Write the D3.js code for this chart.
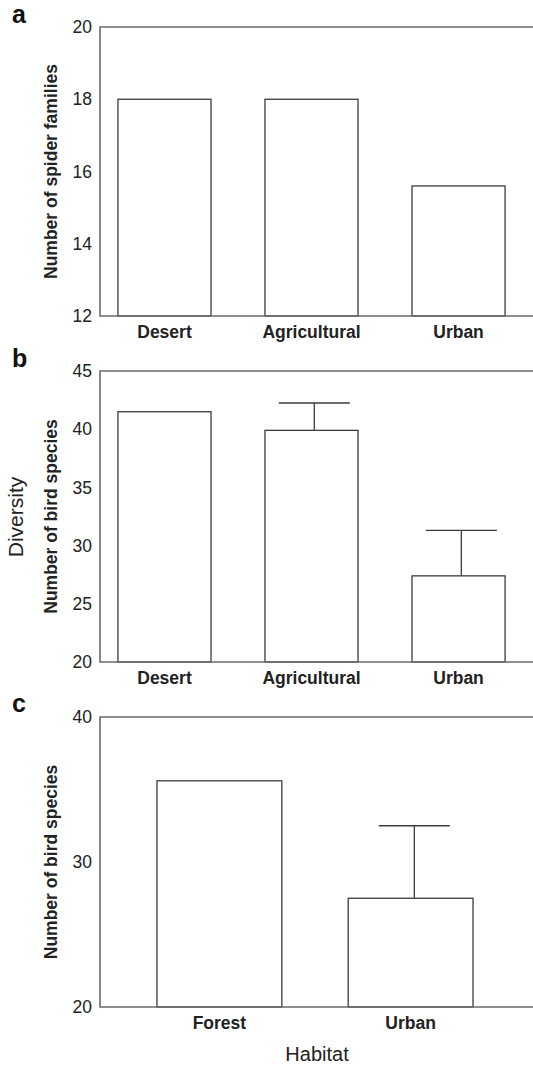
<!DOCTYPE html>
<html>
<head>
<meta charset="utf-8">
<script src="https://cdn.jsdelivr.net/npm/d3@7"></script>
<style>
    body { margin: 0; background: #fff; }
    svg { display: block; font-family: "Liberation Sans", Arial, Helvetica, sans-serif; }
</style>
</head>
<body>
<div id="chart"></div>
<script>
// data
var habitatsAB = ['Desert', 'Agricultural', 'Urban'];
var spiderFamilies = [18, 18, 15.6];
var ticksA = [12, 14, 16, 18, 20];

var birdSpeciesB = [41.5, 39.9, 27.4];
var errTopB = [null, 42.25, 31.3];   // upper end of error bar
var ticksB = [20, 25, 30, 35, 40, 45];

var habitatsC = ['Forest', 'Urban'];
var birdSpeciesC = [35.6, 27.5];
var errTopC = [null, 32.5];
var ticksC = [20, 30, 40];

var W = 533, H = 1067;
var frameColor = '#6b6b6b', barColor = '#3c3c3c';

var svg = d3.select('#chart')
    .append('svg')
    .attr('width', W)
    .attr('height', H);

function drawPanel(p) {
    // one bar panel with open frame on the right
    var x = d3.scaleBand()
        .domain(p.cats)
        .range(p.xRange)
        .paddingInner(p.padIn)
        .paddingOuter(p.padOut);
    var y = d3.scaleLinear()
        .domain(p.domain)
        .range([p.bottom, p.top]);

    var g = svg.append('g');

    // bars
    g.selectAll('rect.bar')
        .data(p.values)
        .enter()
        .append('rect')
        .attr('class', 'bar')
        .attr('x', function(d, i) { return x(p.cats[i]); })
        .attr('y', function(d) { return y(d); })
        .attr('width', x.bandwidth())
        .attr('height', function(d) { return y(p.domain[0]) - y(d); })
        .attr('fill', '#fff')
        .attr('stroke', barColor)
        .attr('stroke-width', 1.3);

    // error bars (upper only)
    if (p.err) {
        var ex = function(i) { return x(p.cats[i]) + x.bandwidth() * 0.53; };
        p.err.forEach(function(e, i) {
            if (e === null) return;
            g.append('line')
                .attr('x1', ex(i)).attr('x2', ex(i))
                .attr('y1', y(p.values[i])).attr('y2', y(e))
                .attr('stroke', barColor).attr('stroke-width', 1.3);
            g.append('line')
                .attr('x1', ex(i) - 35.5).attr('x2', ex(i) + 35.5)
                .attr('y1', y(e)).attr('y2', y(e))
                .attr('stroke', barColor).attr('stroke-width', 1.3);
        });
    }

    // y axis without tick marks
    var yAxis = g.append('g')
        .attr('transform', 'translate(' + p.xRange[0] + ',0)')
        .call(d3.axisLeft(y).tickValues(p.ticks).tickSize(0).tickPadding(8));
    yAxis.select('.domain').remove();
    yAxis.selectAll('text')
        .attr('font-size', 17.5)
        .attr('font-family', '"Liberation Sans", Arial, sans-serif')
        .attr('fill', '#222');

    // x axis labels
    var xAxis = g.append('g')
        .attr('transform', 'translate(0,' + p.bottom + ')')
        .call(d3.axisBottom(x).tickSize(0).tickPadding(10));
    xAxis.select('.domain').remove();
    xAxis.selectAll('text')
        .attr('font-size', 17.5)
        .attr('font-weight', 'bold')
        .attr('font-family', '"Liberation Sans", Arial, sans-serif')
        .attr('fill', '#222');

    // frame: left, top, bottom
    g.append('path')
        .attr('d', 'M' + (W + 5) + ',' + y(p.domain[1]) + 'H' + p.xRange[0] +
                   'V' + y(p.domain[0]) + 'H' + (W + 5))
        .attr('fill', 'none')
        .attr('stroke', frameColor)
        .attr('stroke-width', 1.6);

    // y title
    g.append('text')
        .attr('transform', 'translate(57,' + (p.top + p.bottom) / 2 + ') rotate(-90)')
        .attr('text-anchor', 'middle')
        .attr('font-size', 17.5)
        .attr('font-weight', 'bold')
        .attr('fill', '#222')
        .text(p.ylabel);

    // panel letter
    g.append('text')
        .attr('x', 12)
        .attr('y', p.letterY)
        .attr('font-size', 25)
        .attr('font-weight', 'bold')
        .attr('fill', '#111')
        .text(p.letter);
}

drawPanel({ letter: 'a', letterY: 23, cats: habitatsAB, values: spiderFamilies, err: null,
    domain: [12, 20], ticks: ticksA, top: 27, bottom: 316,
    xRange: [100, 523], padIn: 0.367, padOut: 0.122, ylabel: 'Number of spider families' });

drawPanel({ letter: 'b', letterY: 367, cats: habitatsAB, values: birdSpeciesB, err: errTopB,
    domain: [20, 45], ticks: ticksB, top: 371, bottom: 662,
    xRange: [100, 523], padIn: 0.367, padOut: 0.122, ylabel: 'Number of bird species' });

drawPanel({ letter: 'c', letterY: 712, cats: habitatsC, values: birdSpeciesC, err: errTopC,
    domain: [20, 40], ticks: ticksC, top: 717, bottom: 1007,
    xRange: [100, 530], padIn: 0.347, padOut: 0.298, ylabel: 'Number of bird species' });

// shared titles
svg.append('text')
    .attr('transform', 'translate(23,517) rotate(-90)')
    .attr('text-anchor', 'middle')
    .attr('font-size', 21)
    .attr('fill', '#222')
    .text('Diversity');

svg.append('text')
    .attr('x', 317)
    .attr('y', 1061)
    .attr('text-anchor', 'middle')
    .attr('font-size', 20)
    .attr('fill', '#222')
    .text('Habitat');
</script>
</body>
</html>
